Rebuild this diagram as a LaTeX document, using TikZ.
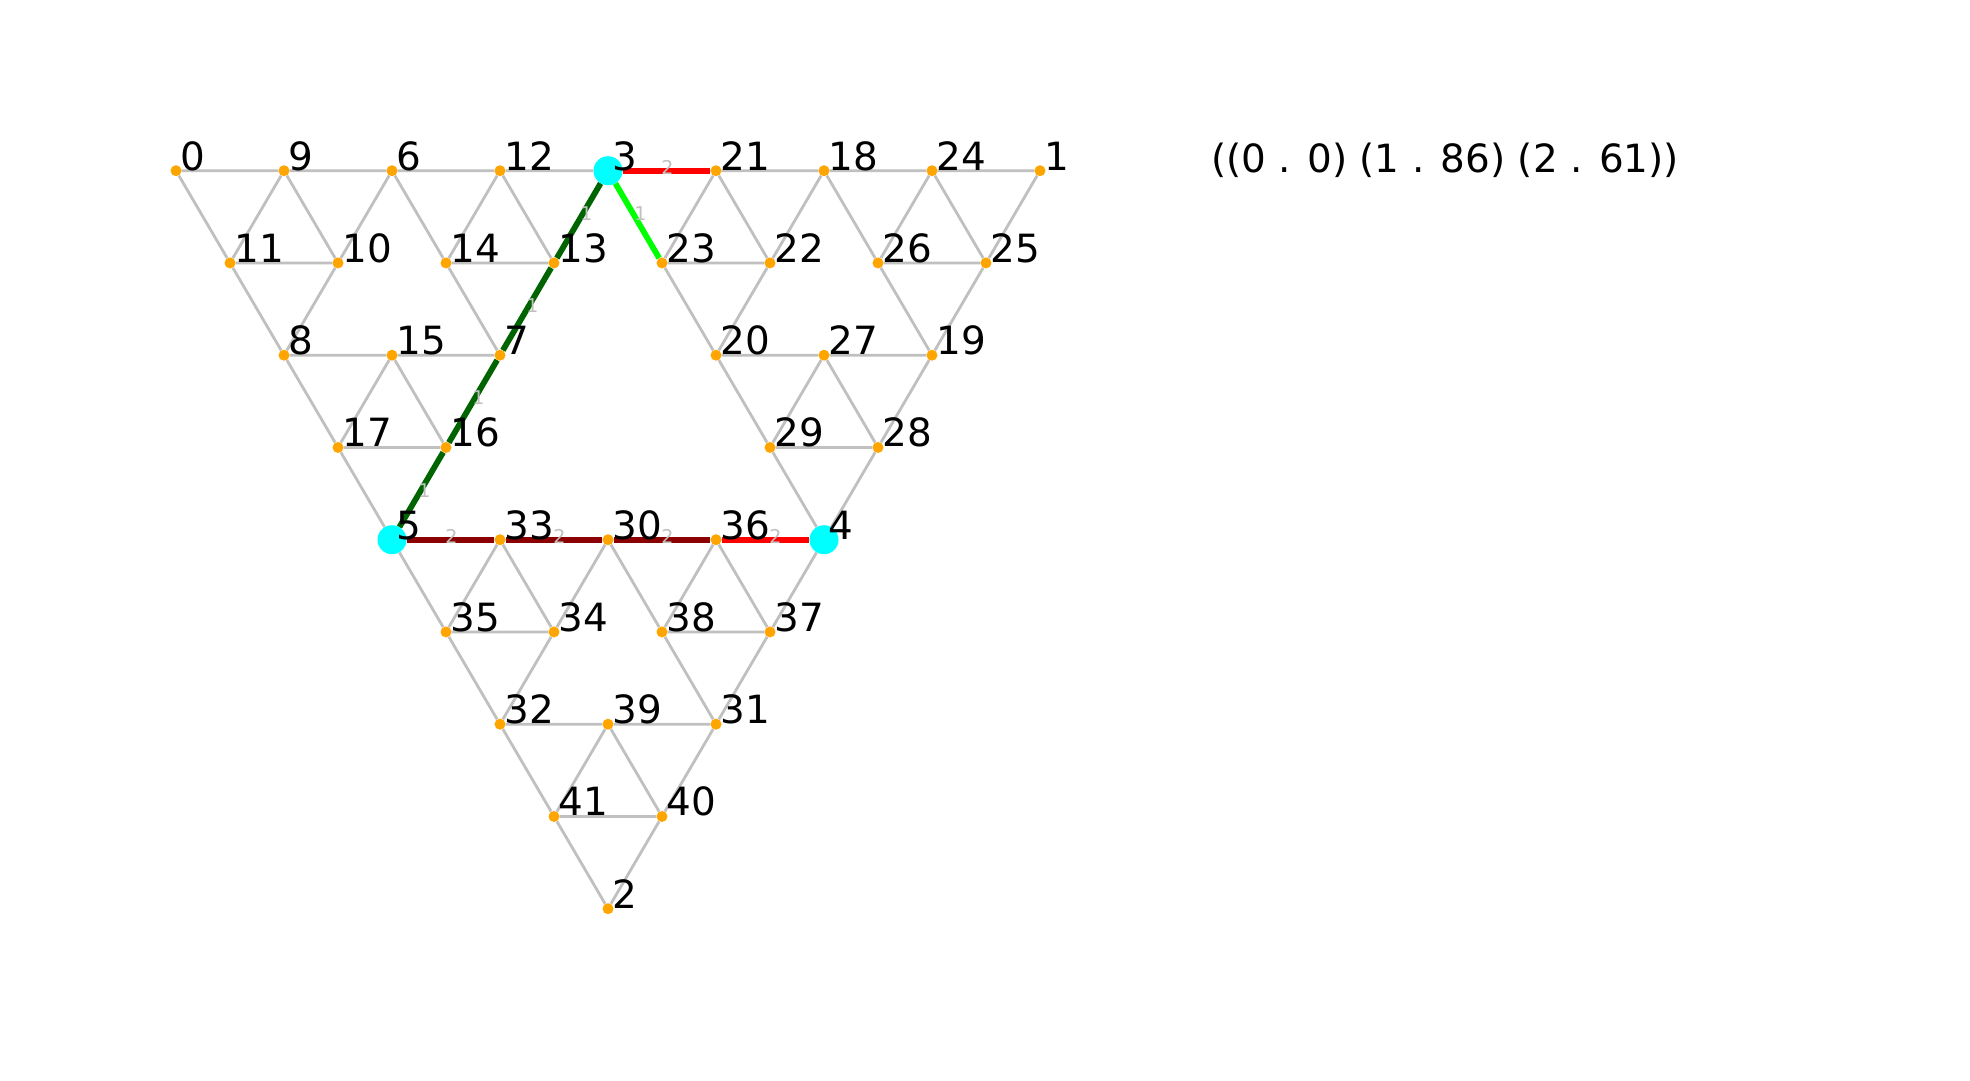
\documentclass[tikz,border=0pt]{standalone}
\usepackage{fontspec}
\setmainfont{DejaVu Sans}
\usetikzlibrary{calc}
\pgfdeclarelayer{background}
\pgfsetlayers{background,main}
\definecolor{edgegray}{HTML}{C0C0C0}
\definecolor{dotorange}{HTML}{FFA500}
\definecolor{hlcyan}{HTML}{00FFFF}
\definecolor{lime}{HTML}{00FF00}
\definecolor{dkgreen}{HTML}{006400}
\definecolor{dkred}{HTML}{8B0000}
\definecolor{brred}{HTML}{FF0000}
\tikzset{
  dot/.style={circle,fill=dotorange,draw=none,minimum size=11pt,inner sep=0pt},
  bigdot/.style={circle,fill=hlcyan,draw=none,minimum size=29pt,inner sep=0pt},
  lab/.style={anchor=base west,inner sep=0pt,font=\fontsize{38.9}{40}\selectfont,text=black},
  elab/.style={inner sep=0pt,font=\fontsize{19}{20}\selectfont,text=edgegray},
  gedge/.style={draw=edgegray,line width=2.8pt},
  hedge/.style={line width=5.8pt},
}
\newcommand\tri[6]{%
  \draw[gedge] (n#1) -- (n#4) -- (n#2) -- (n#6) -- (n#3) -- (n#5) -- (n#1);
  \draw[gedge] (n#4) -- (n#5) -- (n#6) -- (n#4);
}
\begin{document}
\begin{tikzpicture}[x=1pt,y=-1pt]
\useasboundingbox (0,0) rectangle (1970,1080);
% nodes: name/column/row
\foreach \n/\c/\r in {0/0/0,9/2/0,6/4/0,12/6/0,21/10/0,18/12/0,24/14/0,1/16/0,
  11/1/1,10/3/1,14/5/1,13/7/1,23/9/1,22/11/1,26/13/1,25/15/1,
  8/2/2,15/4/2,7/6/2,20/10/2,27/12/2,19/14/2,
  17/3/3,16/5/3,29/11/3,28/13/3,
  33/6/4,30/8/4,36/10/4,
  35/5/5,34/7/5,38/9/5,37/11/5,
  32/6/6,39/8/6,31/10/6,
  41/7/7,40/9/7,
  2/8/8}
  \node[dot] (n\n) at ({176+54*\c},{170.7+92.25*\r}) {};
\foreach \n/\c/\r in {3/8/0,5/4/4,4/12/4}
  \node[bigdot] (n\n) at ({176+54*\c},{170.7+92.25*\r}) {};
% edges
\begin{pgfonlayer}{background}
\fill[white] (0,0) rectangle (1970,1080);
\tri{0}{6}{8}{9}{11}{10}
\tri{6}{3}{7}{12}{14}{13}
\tri{8}{7}{5}{15}{17}{16}
\tri{3}{18}{20}{21}{23}{22}
\tri{18}{1}{19}{24}{26}{25}
\tri{20}{19}{4}{27}{29}{28}
\tri{5}{30}{32}{33}{35}{34}
\tri{30}{4}{31}{36}{38}{37}
\tri{32}{31}{2}{39}{41}{40}
\draw[hedge,draw=brred] (n3) -- (n21);
\draw[hedge,draw=lime] (n3) -- (n23);
\draw[hedge,draw=dkgreen] (n3) -- (n13) -- (n7) -- (n16) -- (n5);
\draw[hedge,draw=dkred] (n5) -- (n33) -- (n30) -- (n36);
\draw[hedge,draw=brred] (n36) -- (n4);
\end{pgfonlayer}
% edge labels
\foreach \a/\b/\t [count=\i] in {3/21/2,3/23/1,3/13/1,13/7/1,7/16/1,16/5/1,5/33/2,33/30/2,30/36/2,36/4/2}
  \node[elab] (e\i) at ([xshift=5.5pt,yshift=3.5pt]$(n\a.center)!0.5!(n\b.center)$) {\t};
% node labels
\foreach \n in {0,1,2,3,4,5,6,7,8,9,10,11,12,13,14,15,16,17,18,19,20,21,22,23,24,25,26,27,28,29,30,31,32,33,34,35,36,37,38,39,40,41}
  \node[lab] (l\n) at ([xshift=4.5pt,yshift=0.7pt]n\n.center) {\n};
\node[lab] (title) at (1211,172) {((0 . 0) (1 . 86) (2 . 61))};
\end{tikzpicture}
\end{document}
